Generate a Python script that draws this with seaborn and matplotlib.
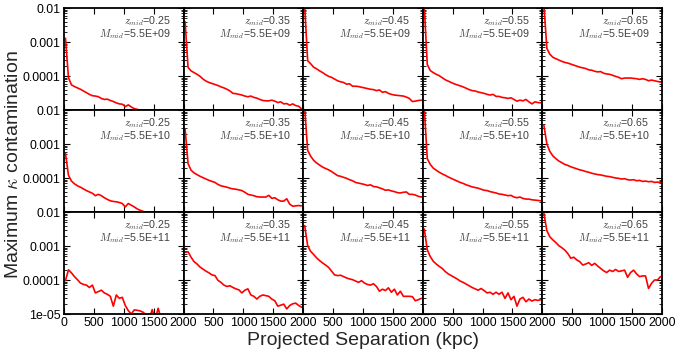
import numpy as np
import pandas as pd
import matplotlib
matplotlib.use("Agg")
import matplotlib.pyplot as plt
import seaborn as sns
from matplotlib.ticker import LogLocator, NullFormatter, FixedLocator, FixedFormatter

# ---------------- data ----------------
sep_kpc = [25, 75, 125, 175, 225, 275, 325, 375, 425, 475,
           525, 575, 625, 675, 725, 775, 825, 875, 925, 975,
           1025, 1075, 1125, 1175, 1225, 1275, 1325, 1375, 1425, 1475,
           1525, 1575, 1625, 1675, 1725, 1775, 1825, 1875, 1925, 1975]

z_mid = [0.25, 0.35, 0.45, 0.55, 0.65]
m_mid = ["5.5E+09", "5.5E+10", "5.5E+11"]

x_ticks = [0, 500, 1000, 1500, 2000]
y_ticks = [1e-5, 1e-4, 1e-3, 1e-2]
y_tick_labels = ["1e-05", "0.0001", "0.001", "0.01"]

# log10(maximum kappa contamination), rows: M_mid, columns: z_mid
logk_m09_z025 = [-2.89, -4.05, -4.26, -4.31, -4.35, -4.39, -4.44, -4.49, -4.54, -4.58,
                 -4.59, -4.61, -4.66, -4.69, -4.68, -4.72, -4.75, -4.79, -4.82, -4.83,
                 -4.90, -4.85, -4.91, -4.96, -4.98, -5.01, -5.20, -5.20, -5.20, -5.20,
                 -5.20, -5.20, -5.20, -5.20, -5.20, -5.20, -5.20, -5.20, -5.20, -5.20]
logk_m09_z035 = [-2.40, -3.75, -3.85, -3.90, -3.95, -4.01, -4.09, -4.15, -4.19, -4.22,
                 -4.25, -4.28, -4.32, -4.35, -4.39, -4.44, -4.51, -4.52, -4.54, -4.56,
                 -4.59, -4.61, -4.59, -4.63, -4.65, -4.69, -4.72, -4.73, -4.73, -4.71,
                 -4.74, -4.78, -4.76, -4.82, -4.81, -4.86, -4.82, -4.87, -4.89, -4.97]
logk_m09_z045 = [-1.95, -3.55, -3.64, -3.74, -3.79, -3.85, -3.90, -3.96, -4.01, -4.04,
                 -4.09, -4.14, -4.17, -4.19, -4.24, -4.23, -4.30, -4.30, -4.31, -4.33,
                 -4.35, -4.37, -4.39, -4.40, -4.43, -4.41, -4.48, -4.46, -4.51, -4.54,
                 -4.56, -4.57, -4.58, -4.59, -4.62, -4.66, -4.75, -4.74, -4.72, -4.71]
logk_m09_z055 = [-1.95, -3.66, -3.84, -3.90, -3.95, -3.99, -4.05, -4.11, -4.15, -4.19,
                 -4.23, -4.26, -4.29, -4.32, -4.36, -4.40, -4.43, -4.44, -4.47, -4.49,
                 -4.51, -4.54, -4.56, -4.54, -4.60, -4.60, -4.63, -4.64, -4.66, -4.64,
                 -4.69, -4.74, -4.71, -4.73, -4.69, -4.76, -4.82, -4.76, -4.78, -4.79]
logk_m09_z065 = [-1.90, -3.19, -3.36, -3.45, -3.49, -3.53, -3.57, -3.60, -3.62, -3.65,
                 -3.68, -3.71, -3.74, -3.76, -3.78, -3.82, -3.83, -3.86, -3.88, -3.87,
                 -3.92, -3.94, -3.95, -3.98, -4.01, -4.04, -4.08, -4.06, -4.06, -4.06,
                 -4.07, -4.08, -4.10, -4.08, -4.10, -4.14, -4.12, -4.14, -4.16, -4.18]

logk_m10_z025 = [-3.28, -3.92, -4.09, -4.17, -4.23, -4.27, -4.32, -4.37, -4.41, -4.45,
                 -4.52, -4.48, -4.52, -4.58, -4.63, -4.67, -4.69, -4.70, -4.72, -4.75,
                 -4.85, -4.75, -4.80, -4.85, -4.91, -4.95, -4.98, -5.20, -5.20, -5.20,
                 -5.20, -5.20, -5.20, -5.20, -5.20, -5.20, -5.20, -5.20, -5.20, -5.20]
logk_m10_z035 = [-2.55, -3.58, -3.77, -3.85, -3.90, -3.95, -3.99, -4.03, -4.07, -4.10,
                 -4.13, -4.19, -4.23, -4.25, -4.27, -4.30, -4.32, -4.33, -4.35, -4.37,
                 -4.42, -4.48, -4.50, -4.52, -4.55, -4.56, -4.56, -4.56, -4.51, -4.60,
                 -4.58, -4.64, -4.68, -4.68, -4.61, -4.77, -4.83, -4.82, -4.81, -4.82]
logk_m10_z045 = [-1.95, -3.19, -3.36, -3.48, -3.56, -3.62, -3.68, -3.72, -3.76, -3.81,
                 -3.87, -3.93, -3.95, -3.98, -4.01, -4.05, -4.08, -4.13, -4.15, -4.17,
                 -4.19, -4.22, -4.20, -4.25, -4.26, -4.29, -4.32, -4.36, -4.35, -4.38,
                 -4.40, -4.43, -4.44, -4.42, -4.41, -4.48, -4.48, -4.50, -4.54, -4.56]
logk_m10_z055 = [-1.95, -3.43, -3.60, -3.71, -3.77, -3.83, -3.88, -3.92, -3.97, -4.01,
                 -4.05, -4.09, -4.13, -4.16, -4.20, -4.23, -4.26, -4.28, -4.30, -4.33,
                 -4.36, -4.37, -4.40, -4.42, -4.44, -4.47, -4.48, -4.50, -4.52, -4.51,
                 -4.56, -4.58, -4.56, -4.60, -4.62, -4.62, -4.64, -4.65, -4.66, -4.67]
logk_m10_z065 = [-2.45, -3.00, -3.22, -3.35, -3.43, -3.50, -3.55, -3.60, -3.63, -3.67,
                 -3.70, -3.73, -3.76, -3.78, -3.81, -3.83, -3.86, -3.88, -3.90, -3.91,
                 -3.93, -3.95, -3.96, -3.98, -4.00, -4.01, -4.03, -4.02, -4.05, -4.06,
                 -4.05, -4.08, -4.07, -4.10, -4.09, -4.11, -4.10, -4.13, -4.12, -4.14]

logk_m11_z025 = [-4.02, -3.70, -3.79, -3.90, -3.99, -4.09, -4.13, -4.15, -4.22, -4.15,
                 -4.38, -4.34, -4.30, -4.38, -4.42, -4.48, -4.77, -4.44, -4.54, -4.51,
                 -4.75, -4.90, -5.00, -4.88, -4.89, -4.91, -4.95, -5.03, -5.15, -4.87,
                 -5.15, -4.83, -5.15, -5.30, -5.30, -5.30, -5.30, -5.30, -5.30, -5.30]
logk_m11_z035 = [-3.19, -3.17, -3.33, -3.46, -3.53, -3.62, -3.68, -3.74, -3.79, -3.85,
                 -3.87, -4.01, -4.07, -4.15, -4.19, -4.17, -4.22, -4.26, -4.29, -4.38,
                 -4.30, -4.26, -4.44, -4.48, -4.56, -4.48, -4.44, -4.46, -4.48, -4.56,
                 -4.61, -4.77, -4.74, -4.71, -4.85, -4.75, -4.70, -4.68, -4.75, -4.80]
logk_m11_z045 = [-2.40, -2.99, -3.16, -3.25, -3.35, -3.43, -3.50, -3.56, -3.63, -3.74,
                 -3.85, -3.87, -3.86, -3.90, -3.94, -3.97, -3.99, -4.03, -4.07, -4.02,
                 -4.09, -4.13, -4.15, -4.11, -4.19, -4.33, -4.27, -4.31, -4.23, -4.36,
                 -4.27, -4.44, -4.33, -4.48, -4.48, -4.48, -4.49, -4.61, -4.58, -4.54]
logk_m11_z055 = [-2.50, -3.11, -3.31, -3.45, -3.53, -3.60, -3.66, -3.75, -3.82, -3.87,
                 -3.92, -3.97, -4.03, -4.07, -4.12, -4.17, -4.22, -4.26, -4.30, -4.25,
                 -4.31, -4.38, -4.36, -4.42, -4.36, -4.42, -4.36, -4.54, -4.38, -4.58,
                 -4.48, -4.77, -4.56, -4.51, -4.64, -4.56, -4.62, -4.58, -4.60, -4.58]
logk_m11_z065 = [-2.04, -2.55, -2.73, -2.82, -2.90, -2.99, -3.05, -3.12, -3.22, -3.36,
                 -3.33, -3.41, -3.46, -3.56, -3.53, -3.49, -3.57, -3.51, -3.59, -3.66,
                 -3.73, -3.78, -3.71, -3.75, -3.69, -3.75, -3.73, -3.71, -3.92, -3.78,
                 -3.71, -3.82, -3.90, -3.88, -3.88, -4.25, -4.10, -4.00, -4.00, -3.90]

panel_series = [
    [logk_m09_z025, logk_m09_z035, logk_m09_z045, logk_m09_z055, logk_m09_z065],
    [logk_m10_z025, logk_m10_z035, logk_m10_z045, logk_m10_z055, logk_m10_z065],
    [logk_m11_z025, logk_m11_z035, logk_m11_z045, logk_m11_z055, logk_m11_z065],
]

records = []
for r, row in enumerate(panel_series):
    for c, series in enumerate(row):
        for s, lk in zip(sep_kpc, series):
            records.append({"row": r, "col": c, "sep": s, "kappa": 10.0 ** lk})
df = pd.DataFrame(records)

# ---------------- style ----------------
sns.set_theme(style="ticks")
plt.rcParams["font.family"] = ["Liberation Sans", "DejaVu Sans"]
plt.rcParams["mathtext.fontset"] = "cm"
plt.rcParams["axes.linewidth"] = 1.3
plt.rcParams["axes.edgecolor"] = "black"

fig, axes = plt.subplots(3, 5, figsize=(6.8, 3.51), dpi=100)
fig.subplots_adjust(left=0.0941, right=0.9735, top=0.9772, bottom=0.1054,
                    wspace=0, hspace=0)

for r in range(3):
    for c in range(5):
        ax = axes[r, c]
        sub = df[(df["row"] == r) & (df["col"] == c)]
        sns.lineplot(data=sub, x="sep", y="kappa", ax=ax, color="#ff0000",
                     linewidth=1.2, estimator=None, legend=False)
        ax.set_yscale("log")
        ax.set_xlim(0, 2000)
        ax.set_ylim(1e-5, 1e-2)
        ax.set_xlabel("")
        ax.set_ylabel("")

        ax.xaxis.set_major_locator(FixedLocator(x_ticks))
        ax.xaxis.set_minor_locator(FixedLocator([]))
        ax.yaxis.set_major_locator(FixedLocator(y_ticks))
        ax.yaxis.set_minor_locator(LogLocator(base=10, subs=np.arange(2, 10)))
        ax.yaxis.set_minor_formatter(NullFormatter())

        ylabels = list(y_tick_labels)
        if r < 2:
            ylabels[0] = ""
        ax.yaxis.set_major_formatter(FixedFormatter(ylabels))
        xlabels = [str(v) for v in x_ticks]
        if c > 0:
            xlabels[0] = ""
        ax.xaxis.set_major_formatter(FixedFormatter(xlabels))

        ax.tick_params(which="both", direction="in", top=True, right=True,
                       bottom=True, left=True, colors="black",
                       labelsize=8.9, pad=2.5)
        ax.tick_params(which="major", length=4, width=0.8)
        ax.tick_params(which="minor", length=2.2, width=0.6)
        ax.tick_params(labelleft=(c == 0), labelbottom=(r == 2))

        label = (r"$z_{mid}$=%.2f" % z_mid[c]) + "\n" + r"$M_{mid}$=" + m_mid[r]
        ax.text(0.895, 0.935, label, transform=ax.transAxes, ha="right",
                va="top", multialignment="right", linespacing=0.85,
                fontsize=7.7, color="#404040")
        for sp in ax.spines.values():
            sp.set_visible(True)
            sp.set_linewidth(1.3)

fig.text(0.534, 0.03, "Projected Separation (kpc)", ha="center", va="center",
         fontsize=14)
fig.text(0.02, 0.53, r"Maximum $\kappa$ contamination", ha="center",
         va="center", rotation=90, fontsize=14)

fig.savefig("out.png", dpi=100, facecolor="white")
